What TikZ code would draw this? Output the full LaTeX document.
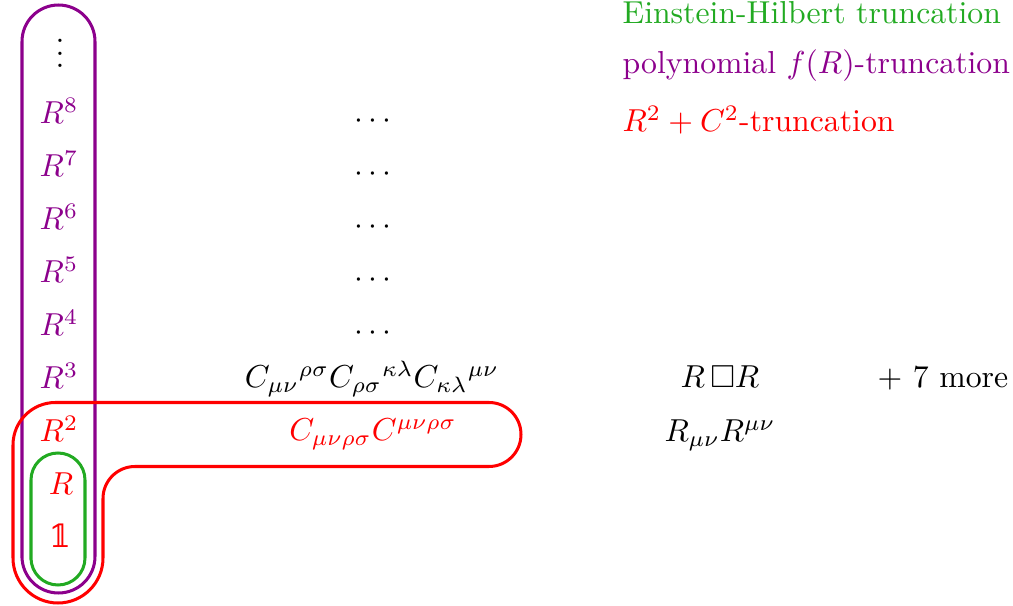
\documentclass[tikz,border=0pt]{standalone}
\usepackage{amssymb}
\usepackage{fontspec}
\newfontfamily\dsfam{DejaVu Serif}
\definecolor{ehgreen}{RGB}{34,170,34}
\definecolor{fpurple}{RGB}{140,0,140}
\begin{document}
\begin{tikzpicture}[x=0.315pt,y=0.315pt,
  trunc/.style={line width=0.95pt},
  lbl/.style={anchor=base,inner sep=0pt},
  leg/.style={anchor=base west,inner sep=0pt}]
\useasboundingbox (0,0) rectangle (1013,606);
% truncation outlines
\draw[trunc,fpurple] (22,49.5) -- (22,564.5)
  arc[start angle=180,end angle=0,radius=11.4975pt] -- (95,49.5)
  arc[start angle=0,end angle=-180,radius=11.4975pt] -- cycle;
\draw[trunc,ehgreen] (31,48) -- (31,126)
  arc[start angle=180,end angle=0,radius=8.505pt] -- (85,48)
  arc[start angle=0,end angle=-180,radius=8.505pt] -- cycle;
\draw[trunc,red] (56,203.5) -- (489,203.5)
  arc[start angle=90,end angle=-90,radius=10.08pt] -- (135,139.5)
  arc[start angle=90,end angle=180,radius=10.08pt] -- (103,48)
  arc[start angle=0,end angle=-180,radius=14.175pt] -- (13,161)
  arc[start angle=180,end angle=90,radius=13.39pt] -- cycle;
% first column
\node[lbl] (vd) at (60,538) {$\vdots$};
\node[lbl,fpurple] (r8) at (59,482) {$R^8$};
\node[lbl,fpurple] (r7) at (59,429) {$R^7$};
\node[lbl,fpurple] (r6) at (59,376) {$R^6$};
\node[lbl,fpurple] (r5) at (59,323) {$R^5$};
\node[lbl,fpurple] (r4) at (59,270) {$R^4$};
\node[lbl,fpurple] (r3) at (59,217) {$R^3$};
\node[lbl,red] (r2) at (59,164) {$R^2$};
\node[lbl,red] (r1) at (61,111) {$R$};
\node[lbl,red] (r0) at (60,58) {\dsfam 𝟙};
% second column
\node[lbl] (c8) at (373,477) {$\cdots$};
\node[lbl] (c7) at (373,424) {$\cdots$};
\node[lbl] (c6) at (373,371) {$\cdots$};
\node[lbl] (c5) at (373,318) {$\cdots$};
\node[lbl] (c4) at (373,265) {$\cdots$};
\node[lbl] (c3) at (372,218) {$C_{\mu\nu}{}^{\rho\sigma}C_{\rho\sigma}{}^{\kappa\lambda}C_{\kappa\lambda}{}^{\mu\nu}$};
\node[lbl,red] (c2) at (373,165) {$C_{\mu\nu\rho\sigma}C^{\mu\nu\rho\sigma}$};
% third column
\node[lbl] (d3) at (720,218) {$R\,\Box R$};
\node[lbl] (d2) at (720,164) {$R_{\mu\nu}R^{\mu\nu}$};
\node[lbl] (more) at (943,218) {$+$ 7 more};
% legend
\node[leg,ehgreen] (l1) at (622,582) {Einstein-Hilbert truncation};
\node[leg,fpurple] (l2) at (622,532) {polynomial $f(R)$-truncation};
\node[leg,red] (l3) at (622,474) {$R^2+C^2$-truncation};
\end{tikzpicture}
\end{document}
